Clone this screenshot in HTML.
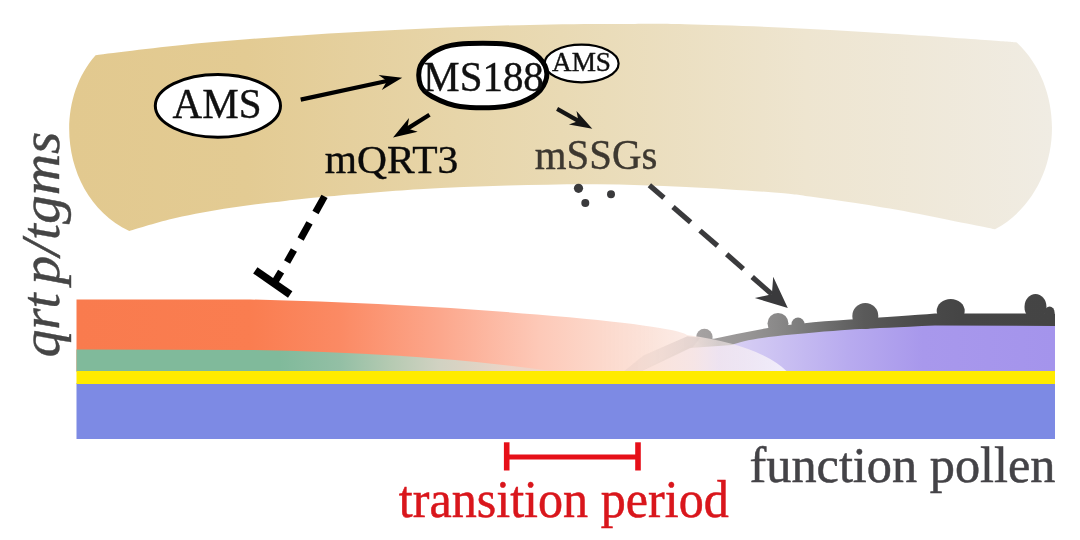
<!DOCTYPE html>
<html lang="en">
<head>
<meta charset="utf-8">
<title>Pollen wall transition model</title>
<style>
  html, body { margin: 0; padding: 0; background: #ffffff; }
  body { width: 1080px; height: 540px; overflow: hidden; }
  svg { display: block; will-change: transform; }
  text { font-family: "Liberation Serif", "DejaVu Serif", serif; }
</style>
</head>
<body>
<svg width="1080" height="540" viewBox="0 0 1080 540">
  <defs>
    <linearGradient id="gBand" gradientUnits="userSpaceOnUse" x1="70" y1="0" x2="1052" y2="0">
      <stop offset="0" stop-color="#e2c98f"/>
      <stop offset="0.18" stop-color="#e3cb93"/>
      <stop offset="0.50" stop-color="#e9dab4"/>
      <stop offset="0.75" stop-color="#eee5d0"/>
      <stop offset="1" stop-color="#f0ece3"/>
    </linearGradient>
    <linearGradient id="gOrange" gradientUnits="userSpaceOnUse" x1="76" y1="0" x2="790" y2="0">
      <stop offset="0" stop-color="#f97b4e"/>
      <stop offset="0.244" stop-color="#fa7d50"/>
      <stop offset="0.37" stop-color="#fb8a64"/>
      <stop offset="0.51" stop-color="#fca78c"/>
      <stop offset="0.65" stop-color="#fdc9b8"/>
      <stop offset="0.734" stop-color="#fcd8cb"/>
      <stop offset="0.81" stop-color="#fbe3da" stop-opacity="0.95"/>
      <stop offset="0.865" stop-color="#fbe8e2" stop-opacity="0.8"/>
      <stop offset="0.90" stop-color="#faeeee" stop-opacity="0.58"/>
      <stop offset="1" stop-color="#ffffff" stop-opacity="0.75"/>
    </linearGradient>
    <linearGradient id="gGreen" gradientUnits="userSpaceOnUse" x1="76" y1="0" x2="560" y2="0">
      <stop offset="0" stop-color="#80ba9b"/>
      <stop offset="0.42" stop-color="#80ba9b"/>
      <stop offset="0.545" stop-color="#93bfa5"/>
      <stop offset="0.65" stop-color="#b5cab2"/>
      <stop offset="0.75" stop-color="#d1d2c2"/>
      <stop offset="0.89" stop-color="#ebd5c7"/>
      <stop offset="1" stop-color="#f5d2c4"/>
    </linearGradient>
    <linearGradient id="gPurple" gradientUnits="userSpaceOnUse" x1="640" y1="0" x2="1055" y2="0">
      <stop offset="0" stop-color="#efe4f0"/>
      <stop offset="0.22" stop-color="#d9d0f4"/>
      <stop offset="0.35" stop-color="#c9bff2"/>
      <stop offset="0.5" stop-color="#b8abef"/>
      <stop offset="0.68" stop-color="#a898ec"/>
      <stop offset="1" stop-color="#a494ec"/>
    </linearGradient>
    <linearGradient id="gGray" gradientUnits="userSpaceOnUse" x1="620" y1="0" x2="1055" y2="0">
      <stop offset="0" stop-color="#b0aaa8" stop-opacity="0.5"/>
      <stop offset="0.15" stop-color="#a09c9c" stop-opacity="0.9"/>
      <stop offset="0.22" stop-color="#a09d9d"/>
      <stop offset="0.30" stop-color="#969494"/>
      <stop offset="0.36" stop-color="#8a8989"/>
      <stop offset="0.42" stop-color="#7b7b7b"/>
      <stop offset="0.56" stop-color="#5a5a5a"/>
      <stop offset="0.68" stop-color="#4b4b4b"/>
      <stop offset="0.78" stop-color="#454545"/>
      <stop offset="1" stop-color="#444444"/>
    </linearGradient>
  </defs>

  <!-- tapetum band -->
  <path d="M95.6 55.2 C112.3 53.3 160.8 47.0 196.0 43.6 C231.2 40.2 275.5 37.2 307.0 35.0 C338.5 32.8 358.2 31.9 385.0 30.5 C411.8 29.1 440.2 27.7 468.0 26.7 C495.8 25.7 524.2 24.9 552.0 24.4 C579.8 23.9 612.8 23.9 635.0 23.9 C657.2 23.9 660.0 23.7 685.0 24.3 C710.0 24.9 751.7 26.2 785.0 27.7 C818.3 29.2 851.7 31.2 885.0 33.3 C918.3 35.3 963.0 38.5 985.0 40.0 C1007.0 41.5 1011.5 42.0 1016.8 42.4 C1070.4 92.7 1062.5 192.8 995 229.3 C990.3 228.3 980.7 226.3 966.7 223.5 C952.7 220.7 929.5 215.8 911.0 212.4 C892.5 209.0 872.4 205.8 855.6 203.1 C838.8 200.4 823.6 198.3 810.0 196.5 C796.4 194.7 794.7 194.1 774.0 192.5 C753.3 190.9 715.5 188.4 686.0 187.0 C656.5 185.6 626.7 184.5 597.0 184.3 C567.3 184.1 537.7 184.8 508.0 185.6 C478.3 186.4 448.7 187.5 419.0 189.3 C389.3 191.1 352.1 194.4 330.0 196.3 C307.9 198.2 303.2 198.8 286.7 200.7 C270.2 202.6 249.5 204.9 231.0 207.8 C212.5 210.7 192.5 214.2 175.6 218.0 C158.7 221.8 137.0 228.8 129.3 230.9 C64.4 200.5 50.3 106.5 95.6 55.2 Z" fill="url(#gBand)"/>

  <!-- strata -->
  <rect x="76.5" y="383" width="978.5" height="56" fill="#7d8ae4"/>
  <path d="M640 371.5 L690 345 Q710 342 732 340 Q790 330 860 325 T935 321 L1055 321 L1055 371.5 Z" fill="url(#gPurple)"/>
  <g fill="url(#gGray)">
    <path d="M623.7 371.5 L641 357 L644 355 L687.4 336.3 L714 338.8 Q740 333 768 328 T850 319.5 T935 313.5 L1055 313.5 L1055 326 L935 325.5 Q880 328 860 329 T792 334.5 T732 345 L690 348 L641 371.5 Z"/>
    <circle cx="704.4" cy="337" r="8.2"/>
    <circle cx="778" cy="323.5" r="10.5"/>
    <circle cx="798" cy="324" r="6.5"/>
    <circle cx="865.3" cy="316" r="13"/>
    <ellipse cx="950.7" cy="311" rx="14" ry="12"/>
    <ellipse cx="1035.5" cy="307" rx="11" ry="13"/>
    <ellipse cx="1049.6" cy="312.5" rx="5" ry="6"/>
  </g>
  <path d="M76.5 299.5 L250 299.5 Q400 303 537 314.5 T687 335 Q760 345 787 371.5 L76.5 371.5 Z" fill="url(#gOrange)"/>
  <path d="M623.7 371.5 L641 357.5 L644 355.5 L687.4 336.3 L700 338 L693 347 L641 371.5 Z" fill="#9a8f90" opacity="0.07"/>
  <path d="M76.5 349.5 L250 350 Q425 353 556 371.5 L76.5 371.5 Z" fill="url(#gGreen)"/>
  <rect x="76.5" y="371" width="978.5" height="13" fill="#ffeb00"/>

  <!-- nodes -->
  <ellipse cx="217.9" cy="105.8" rx="62.6" ry="31.4" fill="#fff" stroke="#000" stroke-width="3"/>
  <text x="172.6" y="118.3" font-size="41.5" textLength="89" lengthAdjust="spacingAndGlyphs" fill="#111" stroke="#111" stroke-width="0.4">AMS</text>
  <ellipse cx="581.6" cy="63.5" rx="37" ry="18.8" fill="#fff" stroke="#000" stroke-width="2.2"/>
  <text x="552" y="71.1" font-size="27" textLength="59" lengthAdjust="spacingAndGlyphs" fill="#111" stroke="#111" stroke-width="0.4">AMS</text>
  <path d="M458.3 44.3 C470.2 43.1 494.5 43.0 506.7 44.3 C518.9 45.6 525.0 48.4 531.4 52.0 C537.8 55.6 542.7 60.8 545.0 65.8 C547.3 70.8 547.4 76.6 545.4 81.7 C543.4 86.8 539.7 92.4 533.0 96.5 C526.3 100.6 517.2 104.8 505.0 106.4 C492.8 108.1 472.2 108.1 460.0 106.4 C447.8 104.8 438.6 100.1 432.0 96.5 C425.4 92.9 422.3 90.1 420.4 85.0 C418.5 79.9 417.9 71.4 420.4 65.8 C422.9 60.2 429.0 54.8 435.3 51.2 C441.6 47.6 446.4 45.4 458.3 44.3 Z" fill="#fff" stroke="#000" stroke-width="5" stroke-linejoin="round"/>
  <text x="423.3" y="91.1" font-size="42" textLength="120.5" lengthAdjust="spacingAndGlyphs" fill="#111" stroke="#111" stroke-width="0.4">MS188</text>

  <text x="324.8" y="172.8" font-size="41" textLength="133.5" lengthAdjust="spacingAndGlyphs" fill="#0a0a0a" stroke="#0a0a0a" stroke-width="0.4">mQRT3</text>
  <text x="534.8" y="168.8" font-size="42.5" textLength="122.5" lengthAdjust="spacingAndGlyphs" fill="#3d3830" stroke="#3d3830" stroke-width="0.4">mSSGs</text>

  <!-- arrows -->
  <line x1="300.7" y1="99.6" x2="388.0" y2="80.8" stroke="#000" stroke-width="4.2"/><path d="M402.2 77.7 L381.8 89.9 L387.0 81.0 L378.6 75.0 Z" fill="#000"/>
  <line x1="429.5" y1="114.8" x2="406.6" y2="129.1" stroke="#000" stroke-width="4.2"/><path d="M393.0 137.5 L409.0 117.9 L407.4 128.5 L417.7 131.8 Z" fill="#000"/>
  <line x1="557.1" y1="108.9" x2="579.2" y2="121.4" stroke="#151515" stroke-width="4.2"/><path d="M592.3 128.8 L568.9 124.4 L578.4 120.9 L576.5 111.0 Z" fill="#151515"/>
  <g stroke="#000" stroke-width="7" fill="none"><line x1="324.5" y1="196.4" x2="315.5" y2="212.5"/><line x1="309.5" y1="222.9" x2="300.6" y2="239"/><line x1="293.9" y1="249.9" x2="287.1" y2="261.9"/><line x1="281.1" y1="271.6" x2="274.6" y2="282.4"/><line x1="255.3" y1="270.4" x2="290.2" y2="294.5" stroke-width="7.6"/></g>
  <g stroke="#3a3a3c" stroke-width="5.2" fill="none"><line x1="649.4" y1="185.3" x2="663.9" y2="197.8"/><line x1="673" y1="207" x2="690.6" y2="222.2"/><line x1="700" y1="230.6" x2="717.5" y2="245.8"/><line x1="726.7" y1="254.2" x2="743.3" y2="268.9"/><line x1="752.2" y1="277" x2="772" y2="294.4"/></g><path d="M787.8 308.0 L754.8 298.0 L771.9 294.3 L773.2 276.8 Z" fill="#3a3a3c"/>
  <g fill="#3a3a3c"><circle cx="578.5" cy="188.3" r="4.6"/><circle cx="611" cy="194.2" r="4"/><circle cx="585.3" cy="203" r="4"/></g>

  <!-- bottom labels -->
  <text x="749.5" y="481.9" font-size="51" textLength="306" lengthAdjust="spacingAndGlyphs" fill="#444347" stroke="#444347" stroke-width="0.5">function pollen</text>
  <text x="398.8" y="516.8" font-size="52" textLength="330" lengthAdjust="spacingAndGlyphs" fill="#d9161c" stroke="#d9161c" stroke-width="0.5">transition period</text>
  <g stroke="#e60f18" fill="none">
    <line x1="506.7" y1="442.3" x2="506.7" y2="470.5" stroke-width="5.6"/>
    <line x1="638" y1="442.3" x2="638" y2="470.5" stroke-width="5.6"/>
    <line x1="506.7" y1="457" x2="638" y2="457" stroke-width="5"/>
  </g>

  <!-- side label -->
  <g font-size="54" font-style="italic" fill="#454545" stroke="#454545" stroke-width="0.4">
    <text transform="translate(58.5 357.2) rotate(-90) scale(1 1.03)" textLength="64" lengthAdjust="spacingAndGlyphs">qrt</text>
    <text transform="translate(58.5 284.6) rotate(-90) scale(1 1.03)" textLength="153" lengthAdjust="spacingAndGlyphs">p/tgms</text>
  </g>
</svg>
</body>
</html>
